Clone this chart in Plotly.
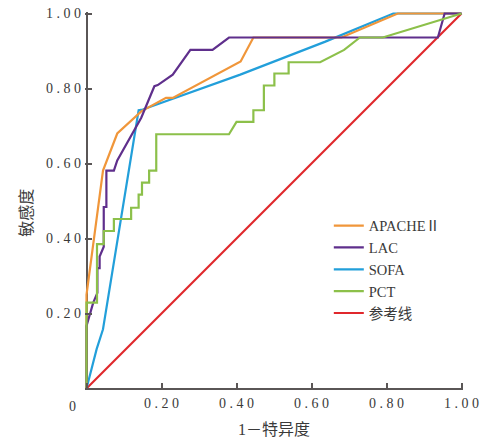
import plotly.graph_objects as go

# ROC curve data (1 - specificity, sensitivity)
apache_x = [0, 0, 0.044, 0.082, 0.146, 0.212, 0.23, 0.411, 0.445, 0.68, 0.83, 1.0]
apache_y = [0, 0.25, 0.581, 0.68, 0.739, 0.775, 0.775, 0.872, 0.936, 0.936, 1.0, 1.0]

lac_x = [0, 0, 0.018, 0.029, 0.029, 0.035, 0.035, 0.046, 0.046, 0.053, 0.053, 0.073,
         0.082, 0.146, 0.181, 0.19, 0.23, 0.256, 0.277, 0.336, 0.38, 0.937, 0.955, 1.0]
lac_y = [0, 0.167, 0.229, 0.255, 0.321, 0.321, 0.352, 0.378, 0.484, 0.484, 0.581, 0.581,
         0.608, 0.722, 0.806, 0.809, 0.837, 0.872, 0.903, 0.903, 0.936, 0.936, 1.0, 1.0]

sofa_x = [0, 0.027, 0.044, 0.139, 0.15, 0.41, 0.637, 0.818, 1.0]
sofa_y = [0, 0.105, 0.158, 0.742, 0.744, 0.837, 0.925, 1.0, 1.0]

pct_x = [0, 0, 0.028, 0.028, 0.046, 0.046, 0.073, 0.073, 0.119, 0.119, 0.139, 0.139,
         0.148, 0.148, 0.167, 0.167, 0.186, 0.186, 0.38, 0.40, 0.445, 0.445, 0.473, 0.473,
         0.501, 0.501, 0.539, 0.539, 0.623, 0.687, 0.729, 0.79, 1.0]
pct_y = [0, 0.229, 0.229, 0.385, 0.385, 0.42, 0.42, 0.452, 0.452, 0.482, 0.482, 0.517,
         0.517, 0.549, 0.549, 0.581, 0.581, 0.678, 0.678, 0.711, 0.711, 0.742, 0.742, 0.808,
         0.808, 0.84, 0.84, 0.870, 0.870, 0.903, 0.936, 0.936, 1.0]

ref_x = [0, 1.0]
ref_y = [0, 1.0]

series_names = ["APACHEⅡ", "LAC", "SOFA", "PCT", "参考线"]
series_colors = ["#F0963A", "#5F2F8C", "#229FDA", "#8CC04A", "#E0282C"]

tick_vals = [0, 0.2, 0.4, 0.6, 0.8, 1.0]
tick_labels = ["", "0.20", "0.40", "0.60", "0.80", "1.00"]
origin_label = "0"
x_title = "1－特异度"
y_title = "敏感度"

spaced = [" ".join(t) for t in tick_labels]

FONT = "Liberation Serif, Noto Sans CJK SC, serif"
TXT = "#3a3a3a"
AX = "#5a5656"

fig = go.Figure()
data = [(apache_x, apache_y), (lac_x, lac_y), (sofa_x, sofa_y), (pct_x, pct_y), (ref_x, ref_y)]
# draw order: reference line first so others are on top
order = [4, 2, 0, 1, 3]
for i in order:
    xs, ys = data[i]
    fig.add_trace(go.Scatter(x=xs, y=ys, mode="lines", name=series_names[i],
                             line=dict(color=series_colors[i], width=2.2),
                             legendrank=i + 1))

fig.update_layout(
    width=482, height=439,
    margin=dict(l=85, r=19, t=12, b=49),
    paper_bgcolor="white", plot_bgcolor="white",
    font=dict(family=FONT, color=TXT, size=14),
    showlegend=True,
    legend=dict(x=0.645, y=0.477, xanchor="left", yanchor="top",
                font=dict(family=FONT, size=14.5, color=TXT),
                bgcolor="rgba(0,0,0,0)", tracegroupgap=0, itemwidth=30),
)
common = dict(range=[-0.004, 1.004], tickvals=tick_vals, ticktext=spaced,
              showgrid=False, showline=False, zeroline=True, zerolinecolor=AX,
              zerolinewidth=2, ticks="inside", ticklen=7, tickcolor=AX, tickwidth=1.5,
              tickfont=dict(family=FONT, size=14, color=TXT), fixedrange=True,
              automargin=False, ticklabeloverflow="allow")
fig.update_xaxes(**common, ticklabelstandoff=3)
fig.update_yaxes(**common, ticklabelstandoff=3)

fig.add_annotation(x=-0.034, y=-0.018, xref="paper", yref="paper", text=origin_label,
                   showarrow=False, xanchor="center", yanchor="top",
                   font=dict(family=FONT, size=14, color=TXT))
fig.add_annotation(x=0.5, y=-0.078, xref="paper", yref="paper", text=x_title,
                   showarrow=False, xanchor="center", yanchor="top",
                   font=dict(family=FONT, size=16, color=TXT))
fig.add_annotation(x=-0.155, y=0.47, xref="paper", yref="paper", text=y_title,
                   showarrow=False, textangle=-90, xanchor="center", yanchor="middle",
                   font=dict(family=FONT, size=16, color=TXT))

fig.write_html("out.html", config={"displayModeBar": False},
               post_script="document.body.style.margin='0';document.body.style.overflow='hidden';")
